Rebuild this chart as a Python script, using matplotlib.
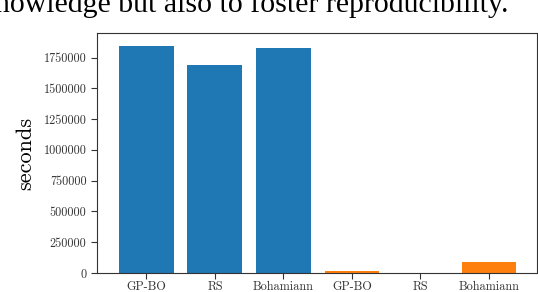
import numpy as np
import matplotlib.pyplot as plt

plt.rcParams['font.family'] = 'serif'
plt.rcParams['font.serif'] = ['cmr10']
plt.rcParams['mathtext.fontset'] = 'cm'
plt.rcParams['axes.formatter.use_mathtext'] = True

labels = ['GP-BO', 'RS', 'Bohamiann', 'GP-BO', 'RS', 'Bohamiann']
blue_vals = [1848000, 1688000, 1832000]
orange_vals = [18000, 2000, 92000]
yticks = [0, 250000, 500000, 750000, 1000000, 1250000, 1500000, 1750000]

fig = plt.figure(figsize=(5.38, 2.92), dpi=100)
ax = fig.add_axes([97/538, 19/292, 440/538, 240/292])

x = np.arange(len(labels))
ax.bar(x[:3], blue_vals, width=0.8, color='#1f77b4')
ax.bar(x[3:], orange_vals, width=0.8, color='#ff7f0e')

ax.set_xlim(-0.72, 5.7)
ax.set_ylim(0, 1950000)
ax.set_xticks(x)
ax.set_xticklabels(labels)
ax.set_yticks(yticks)
ax.set_yticklabels([str(v) for v in yticks])
ax.tick_params(labelsize=8.8, labelcolor='#333333', length=4, width=0.8, colors='#333333')
ax.tick_params(axis='x', pad=1.5)
ax.set_ylabel('seconds', fontsize=16, labelpad=6)
for s in ax.spines.values():
    s.set_linewidth(0.8)
    s.set_color('#333333')

fig.text(508/538, 1 - 12/292, 'knowledge but also to foster reproducibility.',
         ha='right', va='baseline', fontsize=21.5, family='Liberation Serif')

plt.savefig('out.png', dpi=100)
